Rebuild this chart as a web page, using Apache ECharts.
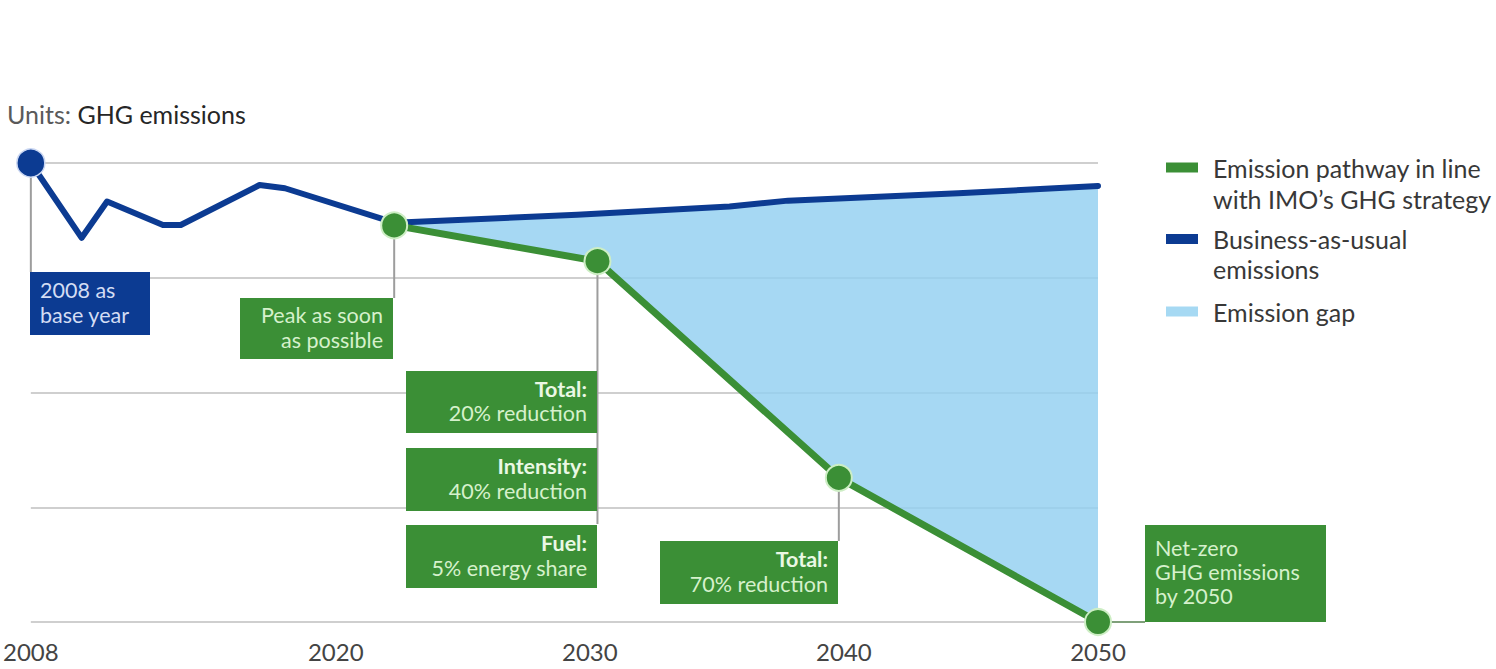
<!DOCTYPE html>
<html>
<head>
<meta charset="utf-8">
<script src="https://cdn.jsdelivr.net/npm/echarts@6/dist/echarts.min.js"></script>
<style>
html,body{margin:0;padding:0;background:#fff;}
#chart{width:1496px;height:669px;}
</style>
</head>
<body>
<div id="chart"></div>
<script>
// ---------- data ----------
const tickYears = [2008, 2020, 2030, 2040, 2050];
const bauYears  = [2008, 2010.0, 2011.0, 2013.2, 2013.9, 2017.0, 2018.0, 2022.3, 2029.5, 2035.5, 2037.8, 2044.5, 2050];
const bauValues = [100, 83.7, 91.6, 86.5, 86.5, 95.2, 94.5, 87.0, 88.7, 90.5, 91.8, 93.4, 95.0];
const greenYears  = [2022.3, 2030.3, 2039.8, 2050];
const greenValues = [86.4, 78.6, 31.4, 0];
const seriesNames = ['Emission pathway in line with IMO\u2019s GHG strategy', 'Business-as-usual emissions', 'Emission gap'];
const legendLines = [['Emission pathway in line', 'with IMO\u2019s GHG strategy'], ['Business-as-usual', 'emissions'], ['Emission gap']];
const annoTexts = [
  ['2008 as', 'base year'],
  ['Peak as soon', 'as possible'],
  ['Total:', '20% reduction'],
  ['Intensity:', '40% reduction'],
  ['Fuel:', '5% energy share'],
  ['Total:', '70% reduction'],
  ['Net-zero', 'GHG emissions', 'by 2050']
];
const unitLabel = ['Units:', 'GHG emissions'];

// ---------- styles ----------
const GREEN = '#3b8f36';
const BLUE = '#0c3b92';
const GAP = 'rgba(146,207,240,0.82)';
const FONT = 'Lato, "Open Sans", sans-serif';

const chart = echarts.init(document.getElementById('chart'), null, {renderer: 'svg'});

const bauPts = bauYears.map((x, i) => [x, bauValues[i]]);
const greenPts = greenYears.map((x, i) => [x, greenValues[i]]);

function legendCfg(idx, top, lh) {
  const two = legendLines[idx].length > 1;
  return {
    data: [{name: seriesNames[idx], icon: 'rect', itemStyle: {color: [GREEN, BLUE, '#a6d9f3'][idx], borderWidth: 0, opacity: 1}}],
    left: 1166, top: top, padding: 0,
    itemWidth: 32, itemHeight: 10, itemGap: 0,
    selectedMode: false,
    formatter: () => (two ? '\n' : '') + legendLines[idx].join('\n'),
    textStyle: {fontFamily: FONT, fontSize: 25, color: '#383838', lineHeight: lh, padding: [0, 0, 0, 10]}
  };
}

const option = {
  animation: false,
  title: {
    text: '{a|' + unitLabel[0] + ' }{b|' + unitLabel[1] + '}',
    left: 7, top: 101, padding: 0,
    textStyle: {fontWeight: 'normal', rich: {
      a: {fontFamily: FONT, fontSize: 25, fontWeight: 'normal', color: '#5a5a5a'},
      b: {fontFamily: FONT, fontSize: 25, fontWeight: 'normal', color: '#262626'}
    }}
  },
  legend: [legendCfg(0, 121, 31), legendCfg(1, 194, 30), legendCfg(2, 296, 31)],
  grid: {left: 30, right: 398, top: 163, bottom: 47, containLabel: false},
  xAxis: {
    type: 'value', min: 2008, max: 2050,
    axisLine: {show: false}, axisTick: {show: false}, splitLine: {show: false},
    axisLabel: {
      customValues: tickYears, showMinLabel: true, showMaxLabel: true,
      formatter: v => String(v), margin: 17,
      fontFamily: FONT, fontSize: 24, color: '#444'
    }
  },
  yAxis: {
    type: 'value', min: 0, max: 100, interval: 25,
    axisLine: {show: false}, axisTick: {show: false}, axisLabel: {show: false},
    splitLine: {lineStyle: {color: '#cfcfcf', width: 2}}
  },
  series: [
    {
      name: seriesNames[2], type: 'custom', z: 1, silent: true,
      itemStyle: {color: '#a6d9f3'},
      data: [[greenYears[0], greenValues[0]]],
      renderItem: function (params, api) {
        const top = bauPts.filter(p => p[0] >= greenYears[0]).map(p => api.coord(p));
        const bot = greenPts.slice().reverse().map(p => api.coord(p));
        return {type: 'polygon', shape: {points: top.concat(bot)}, style: {fill: GAP}};
      }
    },
    {
      name: seriesNames[1], type: 'line', z: 3, silent: true,
      data: bauPts, symbol: 'none', smooth: false,
      itemStyle: {color: BLUE},
      lineStyle: {color: BLUE, width: 6, join: 'round', cap: 'round'}
    },
    {
      name: seriesNames[0], type: 'line', z: 4, silent: true,
      data: greenPts, symbol: 'none',
      itemStyle: {color: GREEN},
      lineStyle: {color: GREEN, width: 7, join: 'round'}
    },
    {
      type: 'scatter', z: 6, silent: true,
      data: greenPts, symbol: 'circle', symbolSize: 26,
      itemStyle: {color: GREEN, opacity: 1, borderColor: '#cdeec4', borderWidth: 2}
    },
    {
      type: 'scatter', z: 6, silent: true,
      data: [bauPts[0]], symbol: 'circle', symbolSize: 28,
      itemStyle: {color: BLUE, opacity: 1, borderColor: '#c9d6f2', borderWidth: 1.5}
    }
  ]
};
chart.setOption(option);

// ---------- annotations (callout boxes) ----------
const px = p => chart.convertToPixel({gridIndex: 0}, p);
// box layout in pixels; anchors reference data points
const boxes = [
  {r: [30, 272, 120, 63], color: BLUE, tx: 'left', anchor: bauPts[0], line: 'v', bold: false},
  {r: [240, 298, 153, 61], color: GREEN, tx: 'right', anchor: greenPts[0], line: 'v', bold: false},
  {r: [406, 371, 191, 62], color: GREEN, tx: 'right', anchor: greenPts[1], line: 'v', bold: true, lineEnd: 524},
  {r: [406, 448, 191, 63], color: GREEN, tx: 'right', bold: true},
  {r: [406, 525, 191, 63], color: GREEN, tx: 'right', bold: true},
  {r: [660, 541, 178, 63], color: GREEN, tx: 'right', anchor: greenPts[2], line: 'v', bold: true},
  {r: [1145, 525, 181, 97], color: GREEN, tx: 'left', anchor: greenPts[3], line: 'h', bold: false}
];
const graphics = [];
boxes.forEach((b, i) => {
  const [x, y, w, h] = b.r;
  const txtColor = b.color === BLUE ? '#d3ddf4' : '#d6f1cc';
  if (b.anchor) {
    const a = px(b.anchor);
    if (b.line === 'v') {
      graphics.push({type: 'line', z: 1, silent: true,
        shape: {x1: a[0], y1: a[1], x2: a[0], y2: b.lineEnd || y},
        style: {stroke: '#9d9d9d', lineWidth: 2}});
    } else {
      graphics.push({type: 'line', z: 1, silent: true,
        shape: {x1: a[0], y1: a[1], x2: x, y2: a[1]},
        style: {stroke: '#7fa07a', lineWidth: 2}});
    }
  }
  graphics.push({type: 'rect', z: 2, silent: true, shape: {x: x, y: y, width: w, height: h},
    style: {fill: b.color}});
  const lines = annoTexts[i];
  const text = b.bold ? '{b|' + lines[0] + '}\n' + lines.slice(1).join('\n') : lines.join('\n');
  const lh = lines.length > 2 ? 24 : 24.5;
  graphics.push({type: 'text', z: 3, silent: true,
    style: {
      text: text,
      x: b.tx === 'left' ? x + 10 : x + w - 10,
      y: y + h / 2 + (lines.length > 2 ? -2 : -1),
      align: b.tx, verticalAlign: 'middle',
      fontFamily: FONT, fontSize: 21.5, lineHeight: lh, fill: txtColor,
      rich: {b: {fontFamily: FONT, fontSize: 21.5, fontWeight: 'bold', fill: '#eaf8e4', lineHeight: lh}}
    }});
});
chart.setOption({graphic: {elements: graphics}});
</script>
</body>
</html>
